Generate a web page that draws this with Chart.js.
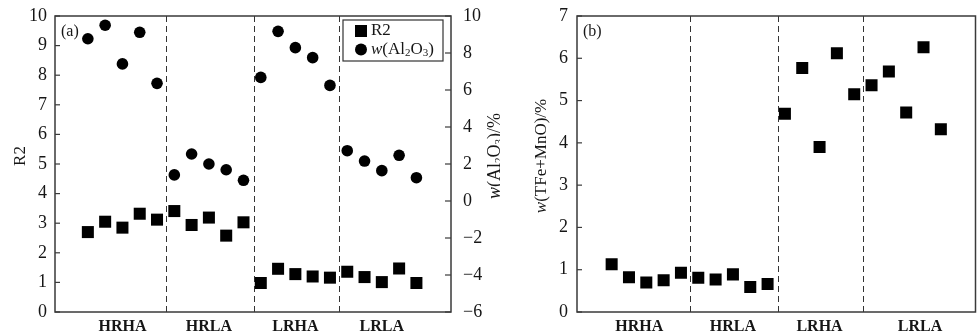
<!DOCTYPE html>
<html><head><meta charset="utf-8">
<script src="https://cdn.jsdelivr.net/npm/chart.js@4"></script>
<style>
html,body{margin:0;padding:0;background:#fff;overflow:hidden;width:977px;height:333px;}
#wa{position:absolute;left:0;top:0;width:500px;height:333px;}
#wb{position:absolute;left:520px;top:0;width:464px;height:333px;}
</style></head><body>
<div id="wa"><canvas id="ca"></canvas></div>
<div id="wb"><canvas id="cb"></canvas></div>
<script>
// ---- data ----
const groups = ['HRHA', 'HRLA', 'LRHA', 'LRLA'];
const groupLabelPosA = [2, 7, 12, 17];
const groupLabelPosB = [1.6, 7, 12, 17.8];
const dividerPos = [4.5, 9.6, 14.5];
const sampleIndex = [0,1,2,3,4,5,6,7,8,9,10,11,12,13,14,15,16,17,18,19];
const r2 = [2.70, 3.05, 2.85, 3.32, 3.12, 3.41, 2.94, 3.19, 2.58, 3.03,
            0.98, 1.46, 1.28, 1.20, 1.16, 1.36, 1.18, 1.01, 1.47, 0.98];
const al2o3 = [8.77, 9.50, 7.41, 9.12, 6.36, 1.41, 2.54, 2.00, 1.69, 1.12,
               6.68, 9.17, 8.29, 7.75, 6.25, 2.72, 2.16, 1.64, 2.47, 1.26];
const tfeMno = [1.13, 0.82, 0.70, 0.75, 0.93, 0.81, 0.77, 0.89, 0.59, 0.66,
                4.69, 5.77, 3.90, 6.12, 5.15, 5.36, 5.69, 4.72, 6.26, 4.32];
const seriesLabelsA = ['R2', 'w(Al2O3)'];

// ---- style ----
const SERIF = '"Liberation Serif", "DejaVu Serif", "Times New Roman", serif';
const INK = '#161616';
const f = (sz, st) => (st ? st + ' ' : '') + sz + 'px ' + SERIF;

const titleA = [{t:'R2', font:f(17)}];
const titleA2 = [{t:'w', font:f(18,'italic')},{t:'(Al', font:f(18)},{t:'2', font:f(11), dy:4},
                 {t:'O', font:f(18)},{t:'3', font:f(11), dy:4},{t:')/%', font:f(18)}];
const titleB = [{t:'w', font:f(17,'italic')},{t:'(TFe+MnO)/%', font:f(17)}];
const legendRich = [[{t:'R2', font:f(17)}],
  [{t:'w', font:f(17,'italic')},{t:'(Al', font:f(17)},{t:'2', font:f(11), dy:4},
   {t:'O', font:f(17)},{t:'3', font:f(11), dy:4},{t:')', font:f(17)}]];

function richWidth(ctx, segs){ let w=0; for(const s of segs){ctx.font=s.font; w+=ctx.measureText(s.t).width;} return w; }
function drawRich(ctx, segs, x, y, rot, align){
  ctx.save(); ctx.translate(x,y); ctx.rotate(rot||0);
  let cx = align==='left' ? 0 : -richWidth(ctx,segs)/2;
  ctx.textBaseline='middle'; ctx.fillStyle=INK;
  for(const s of segs){ ctx.font=s.font; ctx.fillText(s.t, cx, s.dy||0); cx+=ctx.measureText(s.t).width; }
  ctx.restore();
}

const framePlugin = {
  id:'frame',
  beforeDatasetsDraw(chart){
    const {ctx, chartArea:a, scales} = chart;
    ctx.save(); ctx.strokeStyle='#333'; ctx.lineWidth=1; ctx.setLineDash([6,4]);
    for(const d of dividerPos){
      const x = Math.round(scales.x.getPixelForValue(d))+0.5;
      ctx.beginPath(); ctx.moveTo(x,a.top); ctx.lineTo(x,a.bottom); ctx.stroke();
    }
    ctx.restore();
  },
  afterDraw(chart, args, o){
    const {ctx, chartArea:a, scales} = chart;
    ctx.save();
    ctx.strokeStyle='#3a3a3a'; ctx.lineWidth=1.5;
    ctx.strokeRect(a.left, a.top, a.right-a.left, a.bottom-a.top);
    ctx.lineWidth=1.2;
    for(const s of [scales.y, scales.y2]){
      if(!s) continue;
      for(const t of s.ticks){
        const y = s.getPixelForValue(t.value);
        ctx.beginPath();
        if(s.position==='left'){ ctx.moveTo(a.left,y); ctx.lineTo(a.left+5,y); }
        else { ctx.moveTo(a.right,y); ctx.lineTo(a.right-6,y); }
        ctx.stroke();
      }
    }
    // panel tag
    ctx.font=f(16); ctx.fillStyle=INK; ctx.textBaseline='middle';
    ctx.fillText(o.tag, a.left+6, a.top+16);
    // axis titles
    drawRich(ctx, o.titleL, o.titleLX, (a.top+a.bottom)/2 - 8, -Math.PI/2);
    if(o.titleR) drawRich(ctx, o.titleR, o.titleRX, (a.top+a.bottom)/2 - 8, -Math.PI/2);
    // legend
    if(o.legend){
      const L = o.legend;
      ctx.strokeStyle='#333'; ctx.lineWidth=1.2;
      ctx.strokeRect(L.x, L.y, L.w, L.h);
      chart.data.datasets.forEach((ds,i)=>{
        const cy = L.y + 11 + i*18.5;
        ctx.fillStyle='#000';
        if(ds.pointStyle==='rect'){ ctx.fillRect(L.x+12, cy-6, 12, 12); }
        else { ctx.beginPath(); ctx.arc(L.x+18, cy, 6, 0, Math.PI*2); ctx.fill(); }
        drawRich(ctx, legendRich[i], L.x+28, cy, 0, 'left');
      });
    }
    ctx.restore();
  }
};

const tickFont = {family: SERIF, size: 18};
const xLabelFont = {family: SERIF, size: 16, weight: 'bold'};
const noGrid = {display:false, drawTicks:false};
const minus = v => String(v).replace('-', '\u2212');
const fixV = w => s => { s.width = w; s.paddingTop = 0; s.paddingBottom = 0; };

function xScale(min, max, pos){
  return {type:'linear', min, max,
    afterBuildTicks: s => { s.ticks = pos.map(v => ({value:v})); },
    ticks:{callback:(v,i)=>groups[i], font:xLabelFont, color:INK, padding:5, maxRotation:0, autoSkip:false},
    grid:noGrid, border:{display:false},
    afterFit: s => { s.height = 21; s.paddingLeft = 0; s.paddingRight = 0; }};
}

new Chart(document.getElementById('ca'), {
  type:'scatter',
  data:{datasets:[
    {label:seriesLabelsA[0], data:sampleIndex.map((x,i)=>({x, y:r2[i]})), yAxisID:'y',
     pointStyle:'rect', pointRadius:8.5, backgroundColor:'#000', borderColor:'#000', borderWidth:0},
    {label:seriesLabelsA[1], data:sampleIndex.map((x,i)=>({x, y:al2o3[i]})), yAxisID:'y2',
     pointStyle:'circle', pointRadius:5.8, backgroundColor:'#000', borderColor:'#000', borderWidth:0}
  ]},
  options:{
    responsive:true, maintainAspectRatio:false, animation:false, events:[],
    layout:{padding:{top:16, left:0, right:0, bottom:0}},
    plugins:{legend:{display:false}, tooltip:{enabled:false},
      frame:{tag:'(a)', titleL:titleA, titleLX:21, titleR:titleA2, titleRX:495,
             legend:{x:343, y:20, w:100, h:41}}},
    scales:{
      x: xScale(-1.9, 21, groupLabelPosA),
      y:{position:'left', min:0, max:10, ticks:{stepSize:1, font:tickFont, color:INK, padding:8},
         grid:noGrid, border:{display:false}, afterFit:fixV(55)},
      y2:{position:'right', min:-6, max:10, ticks:{stepSize:2, font:tickFont, color:INK, padding:12, callback:minus},
         grid:noGrid, border:{display:false}, afterFit:fixV(49)}
    }
  },
  plugins:[framePlugin]
});

new Chart(document.getElementById('cb'), {
  type:'scatter',
  data:{datasets:[
    {label:'w(TFe+MnO)', data:sampleIndex.map((x,i)=>({x, y:tfeMno[i]})), yAxisID:'y',
     pointStyle:'rect', pointRadius:8.5, backgroundColor:'#000', borderColor:'#000', borderWidth:0}
  ]},
  options:{
    responsive:true, maintainAspectRatio:false, animation:false, events:[],
    layout:{padding:{top:16, left:0, right:0, bottom:0}},
    plugins:{legend:{display:false}, tooltip:{enabled:false},
      frame:{tag:'(b)', titleL:titleB, titleLX:22}},
    scales:{
      x: xScale(-2, 21, groupLabelPosB),
      y:{position:'left', min:0, max:7, ticks:{stepSize:1, font:tickFont, color:INK, padding:9},
         grid:noGrid, border:{display:false}, afterFit:fixV(57)}
    }
  },
  plugins:[framePlugin]
});
</script>
</body></html>
